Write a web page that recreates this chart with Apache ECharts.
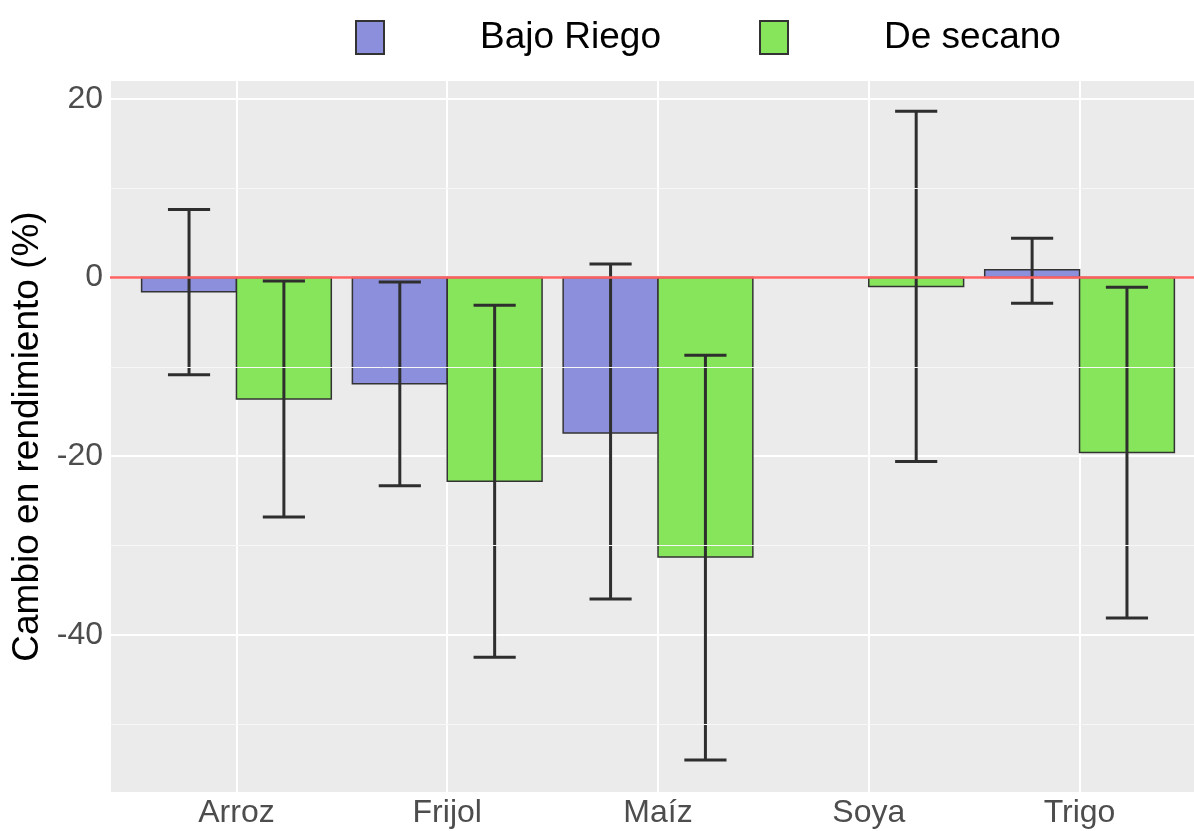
<!DOCTYPE html>
<html lang="es">

<head>
  <meta charset="UTF-8">
  <script src="https://cdn.jsdelivr.net/npm/echarts@6/dist/echarts.min.js"></script>
  <style>
    body { margin: 0; background: #fff; }
  </style>
</head>

<body>
  <div id="chart" style="width: 1194px;height:831px;"></div>

  <script type="text/javascript">

    // cultivos (eje x discreto)
    var categories = ['Arroz', 'Frijol', 'Maíz', 'Soya', 'Trigo'];
    var seriesNames = ['Bajo Riego', 'De secano'];

    // cambio medio en rendimiento (%) y sus barras de error
    var riegoValues = [-1.6, -11.9, -17.4, null, 0.85];
    var riegoLow    = [-10.9, -23.3, -36.0, null, -2.9];
    var riegoHigh   = [7.6, -0.5, 1.5, null, 4.4];

    var secanoValues = [-13.6, -22.8, -31.3, -1.0, -19.6];
    var secanoLow    = [-26.8, -42.5, -54.0, -20.6, -38.1];
    var secanoHigh   = [-0.4, -3.1, -8.7, 18.6, -1.1];

    var yTicks = [-40, -20, 0, 20];
    var yMinorLines = [-50, -30, -10, 10];

    var fontFamily = '"Liberation Sans", Arial, sans-serif';
    var dodge = 0.225;   // mitad del ancho de cada barra (unidades de categoría)
    var capHalf = 0.1;

    function toPoints(vals) {
      var out = [];
      vals.forEach(function (v, i) {
        if (v != null) out.push([i + 1, v]);
      });
      return out;
    }

    function toErrors(low, high) {
      var out = [];
      low.forEach(function (v, i) {
        if (v != null) out.push([i + 1, v, high[i]]);
      });
      return out;
    }

    function barSeries(name, vals, offset, color) {
      return {
        type: 'custom',
        name: name,
        z: 2,
        itemStyle: { color: color, borderColor: '#333333', borderWidth: 1.5 },
        encode: { x: 0, y: 1 },
        data: toPoints(vals),
        renderItem: function (params, api) {
          var x = api.value(0) + offset;
          var v = api.value(1);
          var p0 = api.coord([x - dodge, 0]);
          var p1 = api.coord([x + dodge, v]);
          return {
            type: 'rect',
            shape: {
              x: p0[0],
              y: Math.min(p0[1], p1[1]),
              width: p1[0] - p0[0],
              height: Math.abs(p1[1] - p0[1])
            },
            style: api.style()
          };
        }
      };
    }

    function errorSeries(low, high, offset) {
      return {
        type: 'custom',
        z: 4,
        silent: true,
        encode: { x: 0, y: [1, 2] },
        data: toErrors(low, high),
        renderItem: function (params, api) {
          var x = api.value(0) + offset;
          var lo = api.coord([x, api.value(1)]);
          var hi = api.coord([x, api.value(2)]);
          var w = api.coord([x + capHalf, 0])[0] - lo[0];
          var st = { stroke: '#2e2e2e', lineWidth: 3 };
          return {
            type: 'group',
            children: [
              { type: 'line', shape: { x1: lo[0], y1: lo[1], x2: hi[0], y2: hi[1] }, style: st },
              { type: 'line', shape: { x1: lo[0] - w, y1: lo[1], x2: lo[0] + w, y2: lo[1] }, style: st },
              { type: 'line', shape: { x1: hi[0] - w, y1: hi[1], x2: hi[0] + w, y2: hi[1] }, style: st }
            ]
          };
        }
      };
    }

    var chart = echarts.init(document.getElementById('chart'));

    var option = {
      animation: false,
      textStyle: { fontFamily: fontFamily },
      legend: {
        data: seriesNames,
        icon: 'rect',
        left: 350,
        top: 14,
        itemWidth: 28,
        itemHeight: 33,
        itemGap: 98,
        textStyle: { fontSize: 37, color: '#000', fontFamily: fontFamily, padding: [0, 0, 0, 91] }
      },
      grid: {
        left: 110,
        right: -12,
        top: 80,
        bottom: 38,
        outerBoundsMode: 'none',
        containLabel: false,
        show: true,
        backgroundColor: '#ebebeb',
        borderWidth: 0
      },
      xAxis: {
        type: 'value',
        min: 0.4,
        max: 5.6,
        axisLine: { show: false },
        axisTick: { show: false },
        axisLabel: {
          customValues: [1, 2, 3, 4, 5],
          margin: 4,
          fontSize: 32,
          color: '#4d4d4d',
          fontFamily: fontFamily,
          formatter: function (v) {
            return Number.isInteger(v) ? categories[v - 1] : '';
          }
        },
        splitLine: { show: true, lineStyle: { color: '#ffffff', width: 2 } }
      },
      yAxis: {
        type: 'value',
        min: -57.7,
        max: 22.1,
        name: 'Cambio en rendimiento (%)',
        nameLocation: 'middle',
        nameGap: 47,
        nameTextStyle: { fontSize: 37, color: '#000', fontFamily: fontFamily },
        axisLine: { show: false },
        axisTick: { show: false },
        axisLabel: {
          customValues: yTicks,
          margin: 7,
          fontSize: 32,
          color: '#4d4d4d',
          fontFamily: fontFamily,
          formatter: function (v) {
            return yTicks.indexOf(v) >= 0 ? String(v) : '';
          }
        },
        splitLine: { show: true, lineStyle: { color: '#ffffff', width: 2 } }
      },
      series: [
        {
          // líneas menores de la cuadrícula
          type: 'line',
          z: 1,
          data: [],
          markLine: {
            silent: true,
            symbol: 'none',
            label: { show: false },
            lineStyle: { color: '#f7f7f7', width: 1, type: 'solid' },
            data: yMinorLines.map(function (v) { return { yAxis: v }; })
          }
        },
        barSeries(seriesNames[0], riegoValues, -dodge, '#8c90dc'),
        barSeries(seriesNames[1], secanoValues, dodge, '#86e55a'),
        {
          // referencia en cero
          type: 'line',
          z: 3,
          data: [],
          markLine: {
            silent: true,
            symbol: 'none',
            label: { show: false },
            lineStyle: { color: '#ff6060', width: 2.5, type: 'solid' },
            data: [{ yAxis: 0 }]
          }
        },
        errorSeries(riegoLow, riegoHigh, -dodge),
        errorSeries(secanoLow, secanoHigh, dodge)
      ]
    };

    chart.setOption(option);
  </script>
</body>

</html>
